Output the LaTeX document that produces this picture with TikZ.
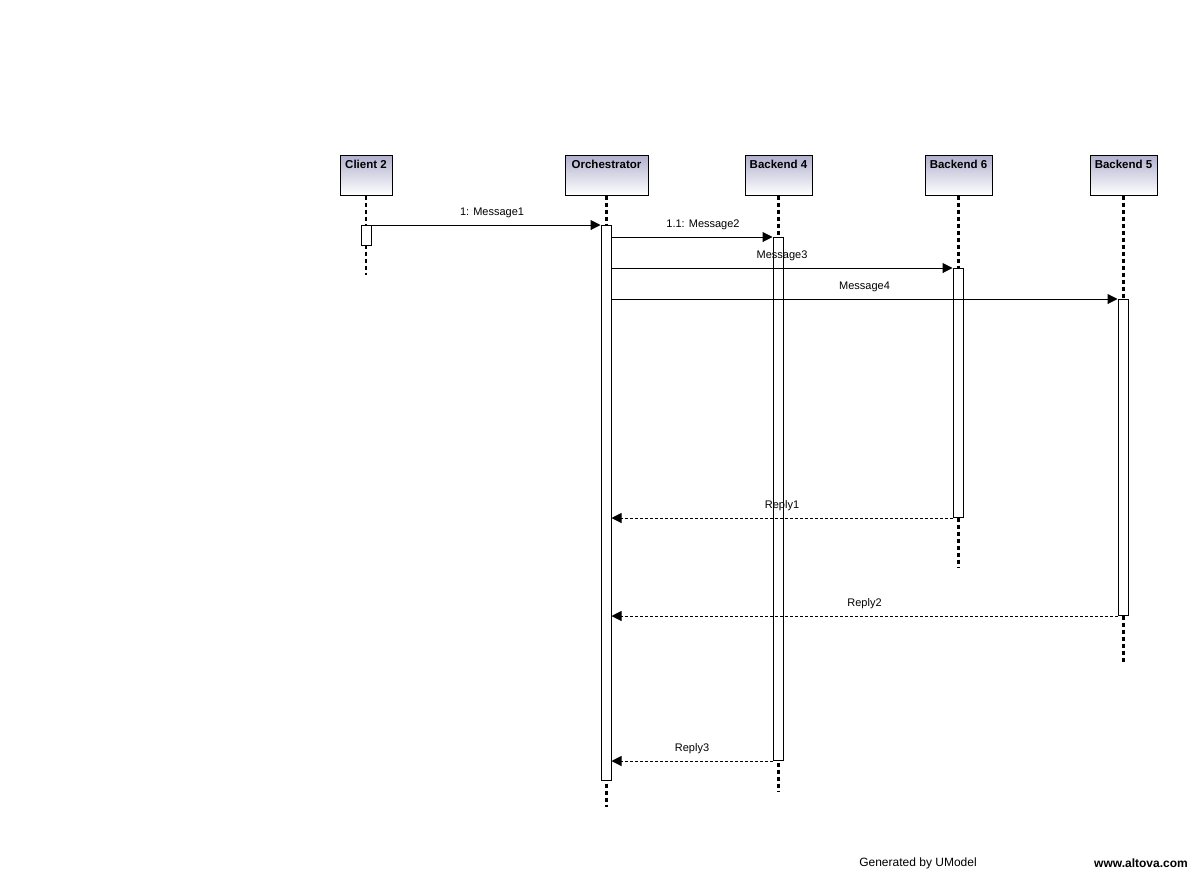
\documentclass[tikz,border=0pt]{standalone}
\usepackage{fontspec}
\setmainfont{Liberation Sans}
\usepackage{xcolor}
\usepackage{tikz}
\usetikzlibrary{arrows.meta}
\definecolor{headtop}{RGB}{176,176,206}
\tikzset{
	head/.style={draw,line width=1pt,top color=headtop,bottom color=white,minimum height=40pt,inner sep=0pt},
	headlabel/.style={anchor=north,font=\fontsize{11.5}{13}\selectfont\bfseries,inner sep=0pt,yshift=-5pt},
	life/.style={line width=2.2pt,dash pattern=on 4pt off 3pt},
	bar/.style={draw,fill=white,line width=1pt,minimum width=10pt,inner sep=0pt,anchor=north},
	msg/.style={-{Triangle[length=10pt,width=10pt]},line width=1pt,font=\fontsize{11}{13}\selectfont},
	reply/.style={msg,dash pattern=on 3pt off 2pt}
}

\begin{document}
\begin{tikzpicture}[x=1pt,y=-1pt]
	\path[use as bounding box,fill=white] (0,0) rectangle (1198,871);
	%
	%  LIFELINE HEADS
	%
	\node[head,minimum width=52pt,label={[headlabel]north:Client 2}] (client) at (366,175) {};
	\node[head,minimum width=83pt,label={[headlabel]north:Orchestrator}] (orch) at (606.5,175) {};
	\node[head,minimum width=67pt,label={[headlabel]north:Backend 4}] (b4) at (778.5,175) {};
	\node[head,minimum width=67pt,label={[headlabel]north:Backend 6}] (b6) at (958.5,175) {};
	\node[head,minimum width=67pt,label={[headlabel]north:Backend 5}] (b5) at (1123.5,175) {};
	%
	%  LIFELINES
	%
	\coordinate (clientend) at (366,275);
	\coordinate (orchend) at (606.5,807);
	\coordinate (b4end) at (778.5,792);
	\coordinate (b6end) at (958.5,568);
	\coordinate (b5end) at (1123.5,663);
	\draw[life] (client.south) -- (clientend);
	\draw[life] (orch.south) -- (orchend);
	\draw[life] (b4.south) -- (b4end);
	\draw[life] (b6.south) -- (b6end);
	\draw[life] (b5.south) -- (b5end);
	%
	%  ACTIVATIONS
	%
	\node[bar,minimum height=20pt] (clientbar) at (366,225) {};
	\node[bar,minimum height=555pt] (orchbar) at (606,225) {};
	\node[bar,minimum height=523pt] (b4bar) at (778,237) {};
	\node[bar,minimum height=249pt] (b6bar) at (958,268) {};
	\node[bar,minimum height=316pt] (b5bar) at (1123,299) {};
	%
	%  MESSAGES
	%
	\path[msg]
	(clientbar.north east) edge node[above=3pt,xshift=6pt]{1: Message1} (orchbar.north west)
	(orchbar.east |- b4bar.north) edge node[above=3pt,xshift=11pt]{1.1: Message2} (b4bar.north west)
	(orchbar.east |- b6bar.north) edge node[above=3pt]{Message3} (b6bar.north west)
	(orchbar.east |- b5bar.north) edge node[above=3pt]{Message4} (b5bar.north west);
	%
	%  REPLIES
	%
	\path[reply]
	(b6bar.south west) edge node[above=3pt]{Reply1} (orchbar.east |- b6bar.south)
	(b5bar.south west) edge node[above=3pt]{Reply2} (orchbar.east |- b5bar.south)
	(b4bar.south west) edge node[above=3pt]{Reply3} (orchbar.east |- b4bar.south);
	%
	%  FOOTER
	%
	\node[font=\fontsize{12}{14}\selectfont] (gen) at (918,863) {Generated by UModel};
	\node[font=\fontsize{12}{14}\selectfont\bfseries] (web) at (1141,863) {www.altova.com};
\end{tikzpicture}
\end{document}
